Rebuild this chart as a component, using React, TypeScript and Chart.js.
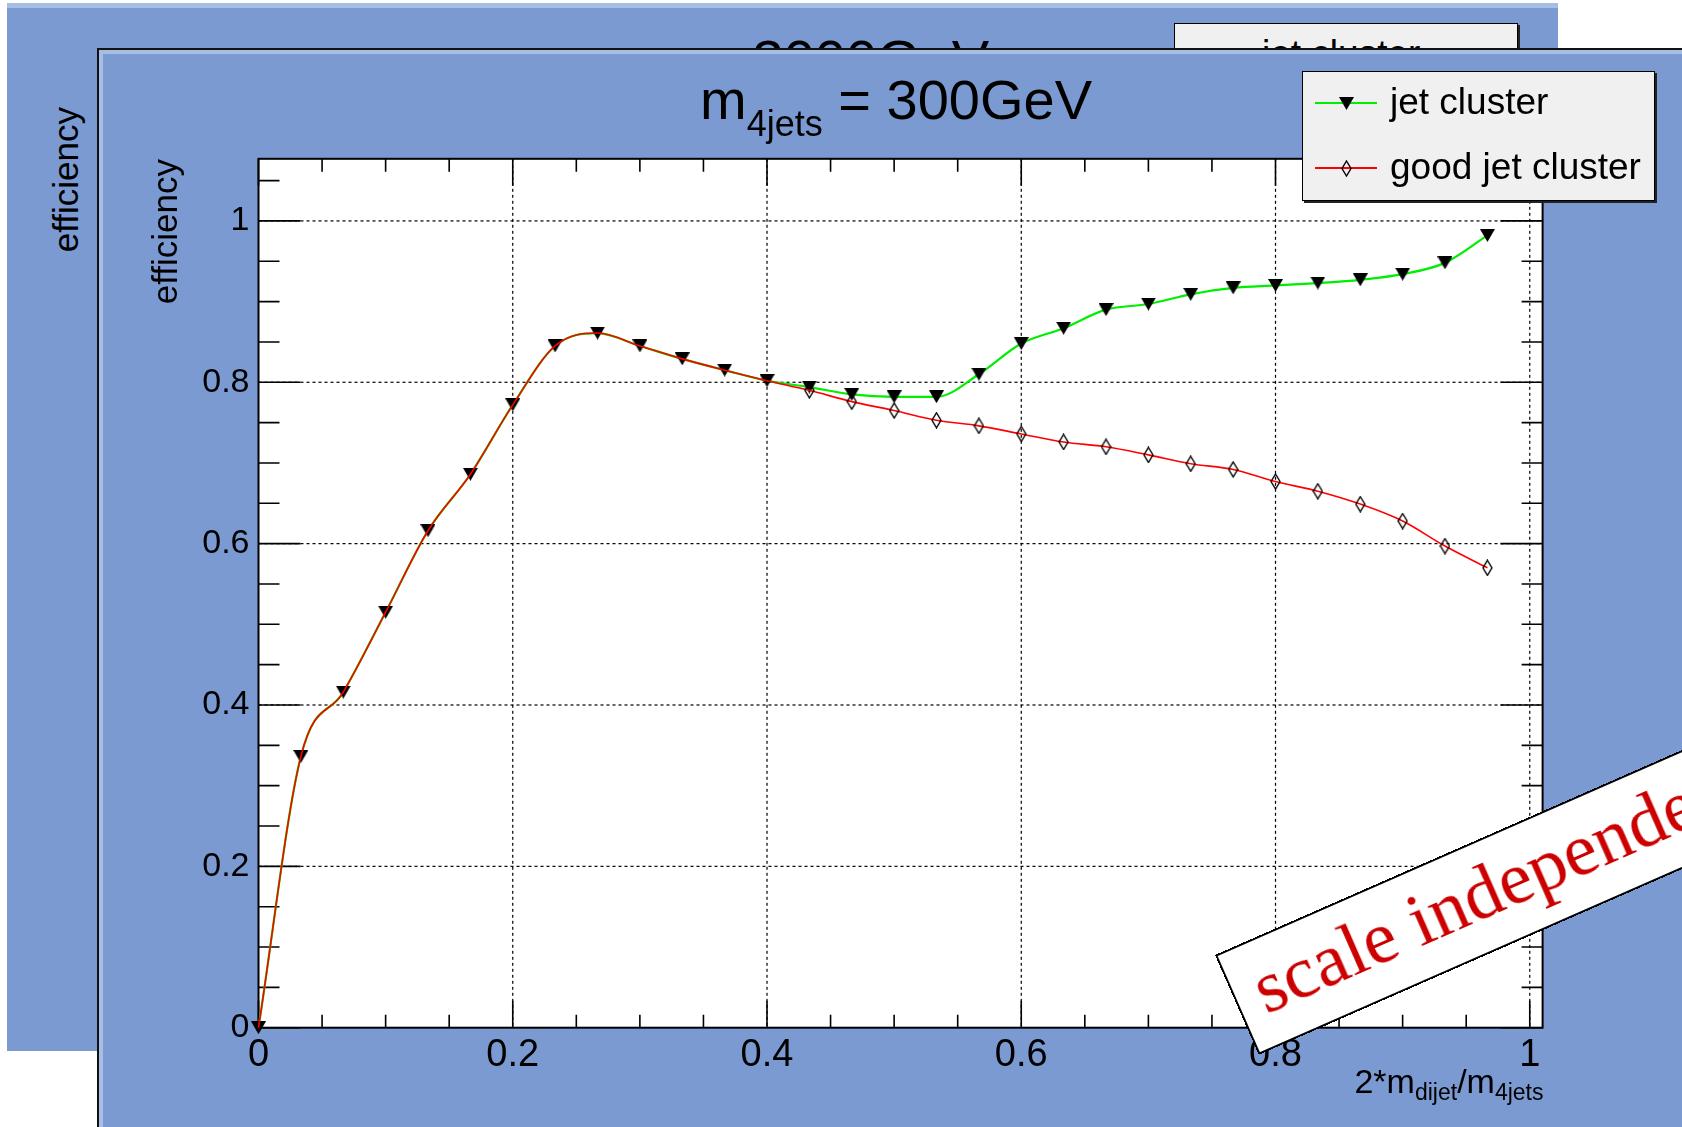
import React, { useEffect, useRef } from 'react';
import { Chart, registerables } from 'chart.js';

Chart.register(...registerables);

// ---------- data ----------
const xValues = [
  0, 0.0333, 0.0667, 0.1, 0.1333, 0.1667, 0.2, 0.2333, 0.2667, 0.3,
  0.3333, 0.3667, 0.4, 0.4333, 0.4667, 0.5, 0.5333, 0.5667, 0.6, 0.6333,
  0.6667, 0.7, 0.7333, 0.7667, 0.8, 0.8333, 0.8667, 0.9, 0.9333, 0.9667,
];
const jetCluster = [
  0, 0.336, 0.416, 0.515, 0.616, 0.686, 0.772, 0.845, 0.861, 0.845,
  0.829, 0.815, 0.802, 0.794, 0.785, 0.782, 0.782, 0.81, 0.848, 0.867,
  0.89, 0.897, 0.909, 0.917, 0.92, 0.923, 0.927, 0.934, 0.948, 0.982,
];
const goodJetCluster = [
  0, 0.336, 0.416, 0.515, 0.616, 0.686, 0.772, 0.845, 0.861, 0.845,
  0.829, 0.815, 0.802, 0.79, 0.776, 0.765, 0.753, 0.746, 0.736, 0.726,
  0.72, 0.71, 0.699, 0.692, 0.677, 0.665, 0.649, 0.628, 0.597, 0.57,
];
const seriesLabels = ['jet cluster', 'good jet cluster'];
const xTickValues = [0, 0.2, 0.4, 0.6, 0.8, 1];
const xTickLabels = ['0', '0.2', '0.4', '0.6', '0.8', '1'];
const yTickValues = [0, 0.2, 0.4, 0.6, 0.8, 1];
const yTickLabels = ['0', '0.2', '0.4', '0.6', '0.8', '1'];
const xMin = 0;
const xMax = 1.0101;
const yMin = 0;
const yMax = 1.077;
const minorStep = 0.05;

// ---------- styling ----------
const BLUE = '#7b9ad2';
const BEVEL = '#a8bde4';
const GREEN = '#00ee00';
const RED = '#ff0000';
const SANS = '"Liberation Sans", Arial, Helvetica, sans-serif';
const SERIF = '"Liberation Serif", "Times New Roman", serif';

function makeTriangle(w: number, h: number) {
  const c = document.createElement('canvas');
  c.width = w;
  c.height = h;
  const g = c.getContext('2d')!;
  g.fillStyle = '#000';
  g.beginPath();
  g.moveTo(0, 0);
  g.lineTo(w, 0);
  g.lineTo(w / 2, h);
  g.closePath();
  g.fill();
  return c;
}

function makeDiamond(w: number, h: number) {
  const c = document.createElement('canvas');
  c.width = w;
  c.height = h;
  const g = c.getContext('2d')!;
  g.strokeStyle = '#000';
  g.lineWidth = 1.4;
  g.beginPath();
  g.moveTo(w / 2, 1);
  g.lineTo(w - 1, h / 2);
  g.lineTo(w / 2, h - 1);
  g.lineTo(1, h / 2);
  g.closePath();
  g.stroke();
  return c;
}

const rootFrame = {
  id: 'rootFrame',
  beforeDraw(chart: any) {
    const { ctx, chartArea: a } = chart;
    ctx.save();
    ctx.fillStyle = '#fff';
    ctx.fillRect(a.left, a.top, a.right - a.left, a.bottom - a.top);
    ctx.restore();
  },
  beforeDatasetsDraw(chart: any) {
    const { ctx, chartArea: a, scales } = chart;
    const xs = scales.x;
    const ys = scales.y;
    ctx.save();
    // dotted grid
    ctx.strokeStyle = '#000';
    ctx.lineWidth = 1.2;
    ctx.setLineDash([3, 3]);
    xTickValues.forEach((v) => {
      const px = xs.getPixelForValue(v);
      if (px > a.left + 2 && px < a.right - 2) {
        ctx.beginPath();
        ctx.moveTo(px, a.top);
        ctx.lineTo(px, a.bottom);
        ctx.stroke();
      }
    });
    yTickValues.forEach((v) => {
      const py = ys.getPixelForValue(v);
      if (py > a.top + 2 && py < a.bottom - 2) {
        ctx.beginPath();
        ctx.moveTo(a.left, py);
        ctx.lineTo(a.right, py);
        ctx.stroke();
      }
    });
    ctx.setLineDash([]);
    // ticks on all four sides
    ctx.lineWidth = 1.6;
    const isMajor = (v: number) => Math.abs(v / 0.2 - Math.round(v / 0.2)) < 1e-6;
    for (let k = 0; k * minorStep <= xMax + 1e-9; k++) {
      const v = k * minorStep;
      const px = xs.getPixelForValue(v);
      const len = isMajor(v) ? 27 : 13;
      ctx.beginPath();
      ctx.moveTo(px, a.bottom);
      ctx.lineTo(px, a.bottom - len);
      ctx.moveTo(px, a.top);
      ctx.lineTo(px, a.top + len);
      ctx.stroke();
    }
    for (let k = 0; k * minorStep <= yMax + 1e-9; k++) {
      const v = k * minorStep;
      const py = ys.getPixelForValue(v);
      const len = isMajor(v) ? 42 : 21;
      ctx.beginPath();
      ctx.moveTo(a.left, py);
      ctx.lineTo(a.left + len, py);
      ctx.moveTo(a.right, py);
      ctx.lineTo(a.right - len, py);
      ctx.stroke();
    }
    // frame
    ctx.lineWidth = 2;
    ctx.strokeRect(a.left, a.top, a.right - a.left, a.bottom - a.top);
    ctx.restore();
  },
};

// text placed by its baseline
function Txt(props: {
  x: number;
  base: number;
  size: number;
  right?: boolean;
  serif?: boolean;
  color?: string;
  children: React.ReactNode;
}) {
  const k = props.serif ? 0.8375 : 0.8465;
  const style: React.CSSProperties = {
    position: 'absolute',
    top: props.base - k * props.size,
    fontSize: props.size,
    lineHeight: `${props.size}px`,
    fontFamily: props.serif ? SERIF : SANS,
    color: props.color || '#000',
    whiteSpace: 'nowrap',
  };
  if (props.right) style.right = 1682 - props.x;
  else style.left = props.x;
  return <div style={style}>{props.children}</div>;
}

function Sub(props: { size: number; drop: number; children: React.ReactNode }) {
  return (
    <span style={{ fontSize: props.size, verticalAlign: `${-props.drop}px`, lineHeight: 1 }}>
      {props.children}
    </span>
  );
}

function VText(props: { x: number; topEnd: number; size: number; children: React.ReactNode }) {
  // rotated -90deg, right-aligned so the text ends at topEnd
  const w = 400;
  return (
    <div
      style={{
        position: 'absolute',
        left: props.x,
        top: props.topEnd + w,
        width: w,
        textAlign: 'right',
        transformOrigin: '0 0',
        transform: 'rotate(-90deg)',
        fontFamily: SANS,
        fontSize: props.size,
        lineHeight: `${props.size}px`,
        whiteSpace: 'nowrap',
        color: '#000',
      }}
    >
      {props.children}
    </div>
  );
}

function MarkerTri() {
  return (
    <svg width="15" height="13" style={{ position: 'absolute', left: -7.5, top: -6.5 }}>
      <polygon points="0,0 15,0 7.5,13" fill="#000" />
    </svg>
  );
}
function MarkerDia() {
  return (
    <svg width="11" height="17" style={{ position: 'absolute', left: -5.5, top: -8.5 }}>
      <polygon points="5.5,1 10,8.5 5.5,16 1,8.5" fill="none" stroke="#000" strokeWidth="1.4" />
    </svg>
  );
}

function LegendBox(props: { left: number; top: number; width: number; height: number }) {
  const { left, top, width, height } = props;
  const rows = [
    { y: top + 32, color: GREEN, marker: <MarkerTri />, label: seriesLabels[0] },
    { y: top + 97, color: RED, marker: <MarkerDia />, label: seriesLabels[1] },
  ];
  return (
    <>
      <div
        style={{
          position: 'absolute',
          left,
          top,
          width,
          height,
          boxSizing: 'border-box',
          background: '#f0f0f0',
          border: '1.5px solid #000',
          boxShadow: '2px 2px 0 #222',
        }}
      />
      {rows.map((r, i) => (
        <React.Fragment key={i}>
          <div
            style={{
              position: 'absolute',
              left: left + 13,
              top: r.y - 1,
              width: 62,
              height: 2,
              background: r.color,
            }}
          />
          <div style={{ position: 'absolute', left: left + 44, top: r.y, width: 0, height: 0 }}>
            {r.marker}
          </div>
          <Txt x={left + 88} base={r.y + 11} size={37}>
            {r.label}
          </Txt>
        </React.Fragment>
      ))}
    </>
  );
}

export default function App() {
  const ref = useRef<HTMLCanvasElement>(null);

  useEffect(() => {
    const canvas = ref.current!;
    const tri = makeTriangle(15, 13);
    const dia = makeDiamond(11, 17);
    Chart.defaults.font.family = SANS;
    const chart = new Chart(canvas, {
      type: 'line',
      data: {
        datasets: [
          {
            label: seriesLabels[1],
            data: xValues.map((x, i) => ({ x, y: goodJetCluster[i] })),
            borderColor: RED,
            borderWidth: 1.6,
            pointStyle: dia as any,
            pointRadius: (c: any) =>
              goodJetCluster[c.dataIndex] === jetCluster[c.dataIndex] ? 0 : 7,
            pointHoverRadius: 0,
            cubicInterpolationMode: 'monotone',
            fill: false,
            clip: false as any,
          },
          {
            label: seriesLabels[0],
            data: xValues.map((x, i) => ({ x, y: jetCluster[i] })),
            borderColor: GREEN,
            borderWidth: 2.2,
            pointStyle: tri as any,
            pointRadius: 7,
            pointHoverRadius: 0,
            cubicInterpolationMode: 'monotone',
            fill: false,
            clip: false as any,
          },
        ],
      },
      options: {
        animation: false,
        responsive: false,
        events: [],
        layout: { padding: { left: 0, right: 139.4, top: 108.8, bottom: 39.3 } },
        plugins: {
          legend: { display: false },
          title: { display: false },
          tooltip: { enabled: false },
        },
        scales: {
          x: {
            type: 'linear',
            min: xMin,
            max: xMax,
            afterBuildTicks: (s: any) => {
              s.ticks = xTickValues.map((v) => ({ value: v }));
            },
            afterFit: (s: any) => {
              s.height = 60;
            },
            ticks: {
              autoSkip: false,
              maxRotation: 0,
              padding: -3,
              color: '#000',
              font: { size: 38, family: SANS },
              callback: (v: any) => xTickLabels[xTickValues.indexOf(Number(v))] ?? '',
            },
            grid: { display: false },
            border: { display: false },
          },
          y: {
            type: 'linear',
            min: yMin,
            max: yMax,
            afterBuildTicks: (s: any) => {
              s.ticks = yTickValues.map((v) => ({ value: v }));
            },
            afterFit: (s: any) => {
              s.width = 159.5;
            },
            ticks: {
              autoSkip: false,
              padding: 1,
              color: '#000',
              font: { size: 34, family: SANS },
              callback: (v: any) => yTickLabels[yTickValues.indexOf(Number(v))] ?? '',
            },
            grid: { display: false },
            border: { display: false },
          },
        },
      },
      plugins: [rootFrame],
    } as any);
    return () => chart.destroy();
  }, []);

  return (
    <div
      style={{
        position: 'fixed',
        left: 0,
        top: 0,
        width: 1682,
        height: 1127,
        overflow: 'hidden',
        background: '#fff',
        fontFamily: SANS,
      }}
    >
      {/* back panel (m4jets = 3000GeV), mostly hidden */}
      <div
        style={{
          position: 'absolute',
          left: 7,
          top: 3,
          width: 1551,
          height: 1048,
          background: BLUE,
          boxShadow: `inset 0 5px 0 ${BEVEL}`,
        }}
      />
      <VText x={48} topEnd={107} size={35}>
        efficiency
      </VText>
      <Txt x={566} base={79} size={56}>
        m<Sub size={36} drop={17}>4jets</Sub> = 3000GeV
      </Txt>
      <LegendBox left={1174} top={23} width={344} height={130} />

      {/* front panel */}
      <div
        style={{
          position: 'absolute',
          left: 97,
          top: 48,
          width: 1585,
          height: 1079,
          boxSizing: 'border-box',
          background: BLUE,
          borderTop: '2px solid #111',
          borderLeft: '2px solid #111',
          boxShadow: `inset 4px 4px 0 ${BEVEL}`,
        }}
      >
        <canvas
          ref={ref}
          width={1583}
          height={1077}
          style={{ position: 'absolute', left: 0, top: 0, width: 1583, height: 1077 }}
        />
      </div>

      <Txt x={700} base={119.3} size={56}>
        m<Sub size={36} drop={17}>4jets</Sub> = 300GeV
      </Txt>
      <VText x={146.5} topEnd={158.8} size={35}>
        efficiency
      </VText>
      <Txt x={1543.5} base={1093} size={34} right>
        2*m<Sub size={23} drop={7}>dijet</Sub>/m<Sub size={23} drop={7}>4jets</Sub>
      </Txt>
      <LegendBox left={1302} top={71} width={353} height={130} />

      {/* rotated banner */}
      <div
        style={{
          position: 'absolute',
          left: 1214.5,
          top: 955,
          width: 820,
          height: 109,
          boxSizing: 'border-box',
          background: '#fff',
          border: '2px solid #000',
          transformOrigin: '0 0',
          transform: 'rotate(-23.7deg)',
        }}
      >
        <Txt x={21} base={73} size={75} serif color="#cc0000">
          scale independent
        </Txt>
      </div>
    </div>
  );
}
